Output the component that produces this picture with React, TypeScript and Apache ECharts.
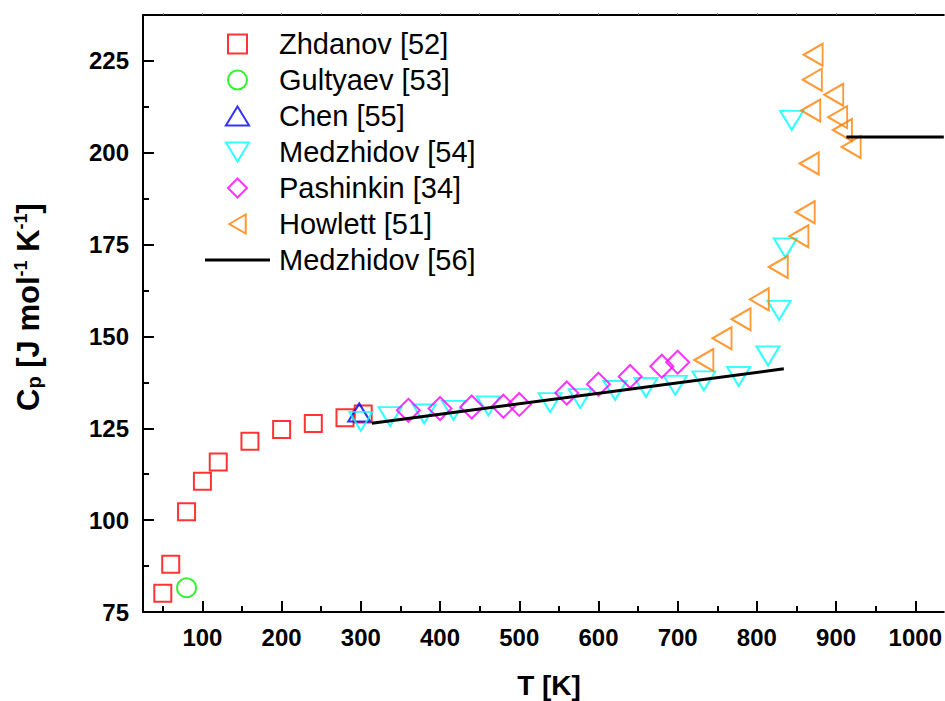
import React, { useEffect, useRef } from "react";
import * as echarts from "echarts";

// ---- data ----
const zhdanovT = [50, 60, 80, 100, 120, 160, 200, 240, 280, 303];
const zhdanovCp = [80.1, 88.0, 102.3, 110.6, 115.8, 121.5, 124.7, 126.3, 127.9, 128.9];

const gultyaevT = [80];
const gultyaevCp = [81.6];

const chenT = [298];
const chenCp = [129.3];

const medz54T = [300, 337, 380, 417, 461, 539, 577, 621, 660, 697, 733, 777, 814, 828, 836, 844];
const medz54Cp = [126.9, 128.2, 128.9, 129.9, 131.1, 132.0, 133.1, 135.3, 136.1, 136.7, 137.9, 139.1, 144.7, 157.1, 174.1, 208.8];

const pashT = [360, 400, 440, 480, 500, 560, 600, 640, 680, 700];
const pashCp = [129.9, 130.4, 130.8, 131.0, 131.5, 134.6, 137.0, 139.1, 141.9, 143.0];

const howT = [733, 756, 780, 803, 827, 853, 861, 866, 868, 870, 871, 897, 902, 908, 919];
const howCp = [143.6, 149.5, 154.7, 160.1, 168.9, 177.3, 183.8, 197.1, 211.5, 219.9, 226.7, 215.8, 209.7, 206.2, 201.6];

// Medzhidov [56] fit lines (null = gap between solid and liquid)
const medz56T = [314, 834, null, 913, 1036];
const medz56Cp = [126.4, 141.2, null, 204.3, 204.3];

const X_MAJOR = [100, 200, 300, 400, 500, 600, 700, 800, 900, 1000];
const X_MINOR = [50, 150, 250, 350, 450, 550, 650, 750, 850, 950];
const X_TOP = [50, 100, 150, 200, 250, 300, 350, 400, 450, 500, 550, 600, 650, 700, 750, 800, 850, 900, 950, 1000];
const Y_MAJOR = [75, 100, 125, 150, 175, 200, 225];
const Y_MINOR = [87.5, 112.5, 137.5, 162.5, 187.5, 212.5];

const X_MIN = 25;
const X_MAX = 1036;
const Y_MIN = 75;
const Y_MAX = 237.5;

const names = [
  "Zhdanov [52]",
  "Gultyaev [53]",
  "Chen [55]",
  "Medzhidov [54]",
  "Pashinkin [34]",
  "Howlett [51]",
  "Medzhidov [56]",
];

// legend icon shapes (keep their aspect inside the legend box)
const legendIcons = [
  "path://M0,0L17,0L17,17L0,17Z",
  "path://M0,10A10,10,0,1,1,20,10A10,10,0,1,1,0,10Z",
  "path://M11,0L22,18L0,18Z",
  "path://M0,0L23,0L11.5,19Z",
  "path://M11.5,0L23,11.5L11.5,23L0,11.5Z",
  "path://M0,11L19,0L19,22Z",
  "path://M0,0L65,0L65,3L0,3Z",
];

const FONT = "Arial, 'Liberation Sans', Helvetica, sans-serif";

const pairs = (xs: (number | null)[], ys: (number | null)[]) =>
  xs.map((x, i) => (x === null || ys[i] === null ? ["-", "-"] : [x, ys[i]]));

function scatter(name: string, xs: number[], ys: number[], color: string, symbol: string, size: any, rotate = 0) {
  return {
    name,
    type: "scatter",
    data: pairs(xs, ys),
    symbol,
    symbolSize: size,
    symbolRotate: rotate,
    itemStyle: { color: "transparent", borderColor: color, borderWidth: 2 },
    emphasis: { disabled: true },
    z: 3,
  };
}

export default function App() {
  const ref = useRef<HTMLDivElement>(null);

  useEffect(() => {
    if (!ref.current) return;
    const chart = echarts.init(ref.current, null, { renderer: "svg" });

    const xBase = { type: "value", min: X_MIN, max: X_MAX, splitLine: { show: false } };
    const yBase = { type: "value", min: Y_MIN, max: Y_MAX, splitLine: { show: false } };
    const labelStyle = {
      fontFamily: FONT,
      fontWeight: "bold",
      fontSize: 24,
      color: "#000",
      formatter: (v: number) => String(v),
    };

    const legendData = names.map((n, i) => ({ name: n, icon: legendIcons[i], itemStyle: { borderWidth: 2 } }));

    const option: any = {
      animation: false,
      backgroundColor: "#fff",
      grid: { left: 143, right: 0, top: 15, bottom: 89, containLabel: false },
      xAxis: [
        {
          ...xBase,
          position: "bottom",
          axisLine: { show: true, onZero: false, lineStyle: { color: "#000", width: 2 } },
          axisTick: { show: true, inside: true, length: 11, lineStyle: { color: "#000", width: 2 }, customValues: X_MAJOR },
          axisLabel: { ...labelStyle, margin: 13, customValues: X_MAJOR },
        },
        {
          ...xBase,
          position: "bottom",
          axisLine: { show: false, onZero: false },
          axisTick: { show: true, inside: true, length: 6, lineStyle: { color: "#000", width: 2 }, customValues: X_MINOR },
          axisLabel: { show: false },
        },
        {
          ...xBase,
          position: "top",
          axisLine: { show: true, onZero: false, lineStyle: { color: "#000", width: 2 } },
          axisTick: { show: true, inside: false, length: 2, lineStyle: { color: "#777", width: 1 }, customValues: X_TOP },
          axisLabel: { show: false },
        },
      ],
      yAxis: [
        {
          ...yBase,
          position: "left",
          axisLine: { show: true, onZero: false, lineStyle: { color: "#000", width: 2 } },
          axisTick: { show: true, inside: true, length: 11, lineStyle: { color: "#000", width: 2 }, customValues: Y_MAJOR },
          axisLabel: { ...labelStyle, margin: 14, customValues: Y_MAJOR },
        },
        {
          ...yBase,
          position: "left",
          axisLine: { show: false, onZero: false },
          axisTick: { show: true, inside: true, length: 6, lineStyle: { color: "#000", width: 2 }, customValues: Y_MINOR },
          axisLabel: { show: false },
        },
      ],
      legend: {
        orient: "vertical",
        left: 205,
        top: 29,
        padding: 0,
        itemWidth: 65,
        itemHeight: 19,
        itemGap: 6,
        symbolKeepAspect: true,
        selectedMode: false,
        data: legendData,
        textStyle: { fontFamily: FONT, fontSize: 29, color: "#000", lineHeight: 30, padding: [0, 0, 0, 4] },
      },
      graphic: [
        {
          type: "text",
          x: 549,
          y: 685,
          style: {
            text: "T [K]",
            font: `bold 28px ${FONT}`,
            fill: "#000",
            align: "center",
            verticalAlign: "middle",
          },
        },
        {
          type: "text",
          x: 28,
          y: 307,
          rotation: Math.PI / 2,
          style: {
            text: "{a|C}{b|p}{a| [J mol}{c|-1}{a| K}{c|-1}{a|]}",
            align: "center",
            verticalAlign: "middle",
            fill: "#000",
            rich: {
              a: { fontFamily: FONT, fontWeight: "bold", fontSize: 31, lineHeight: 32, fill: "#000" },
              b: { fontFamily: FONT, fontWeight: "bold", fontSize: 20, lineHeight: 20, verticalAlign: "bottom", fill: "#000" },
              c: { fontFamily: FONT, fontWeight: "bold", fontSize: 18, lineHeight: 18, verticalAlign: "top", fill: "#000" },
            },
          },
        },
      ],
      series: [
        scatter(names[0], zhdanovT, zhdanovCp, "#ff0000", "rect", 17),
        scatter(names[1], gultyaevT, gultyaevCp, "#00ee00", "circle", 19),
        scatter(names[2], chenT, chenCp, "#0000ff", "triangle", [22, 18]),
        scatter(names[3], medz54T, medz54Cp, "#00ffff", "triangle", [23, 19], 180),
        scatter(names[4], pashT, pashCp, "#ff00ff", "diamond", [23, 23]),
        scatter(names[5], howT, howCp, "#ff8000", "triangle", [22, 19], 90),
        {
          name: names[6],
          type: "line",
          data: pairs(medz56T, medz56Cp),
          symbol: "none",
          connectNulls: false,
          lineStyle: { color: "#000", width: 3 },
          itemStyle: { color: "#000" },
          emphasis: { disabled: true },
          z: 4,
        },
      ],
    };

    chart.setOption(option);
    return () => chart.dispose();
  }, []);

  return (
    <div
      ref={ref}
      style={{ position: "fixed", left: 0, top: 0, width: 945, height: 701, background: "#fff" }}
    />
  );
}
